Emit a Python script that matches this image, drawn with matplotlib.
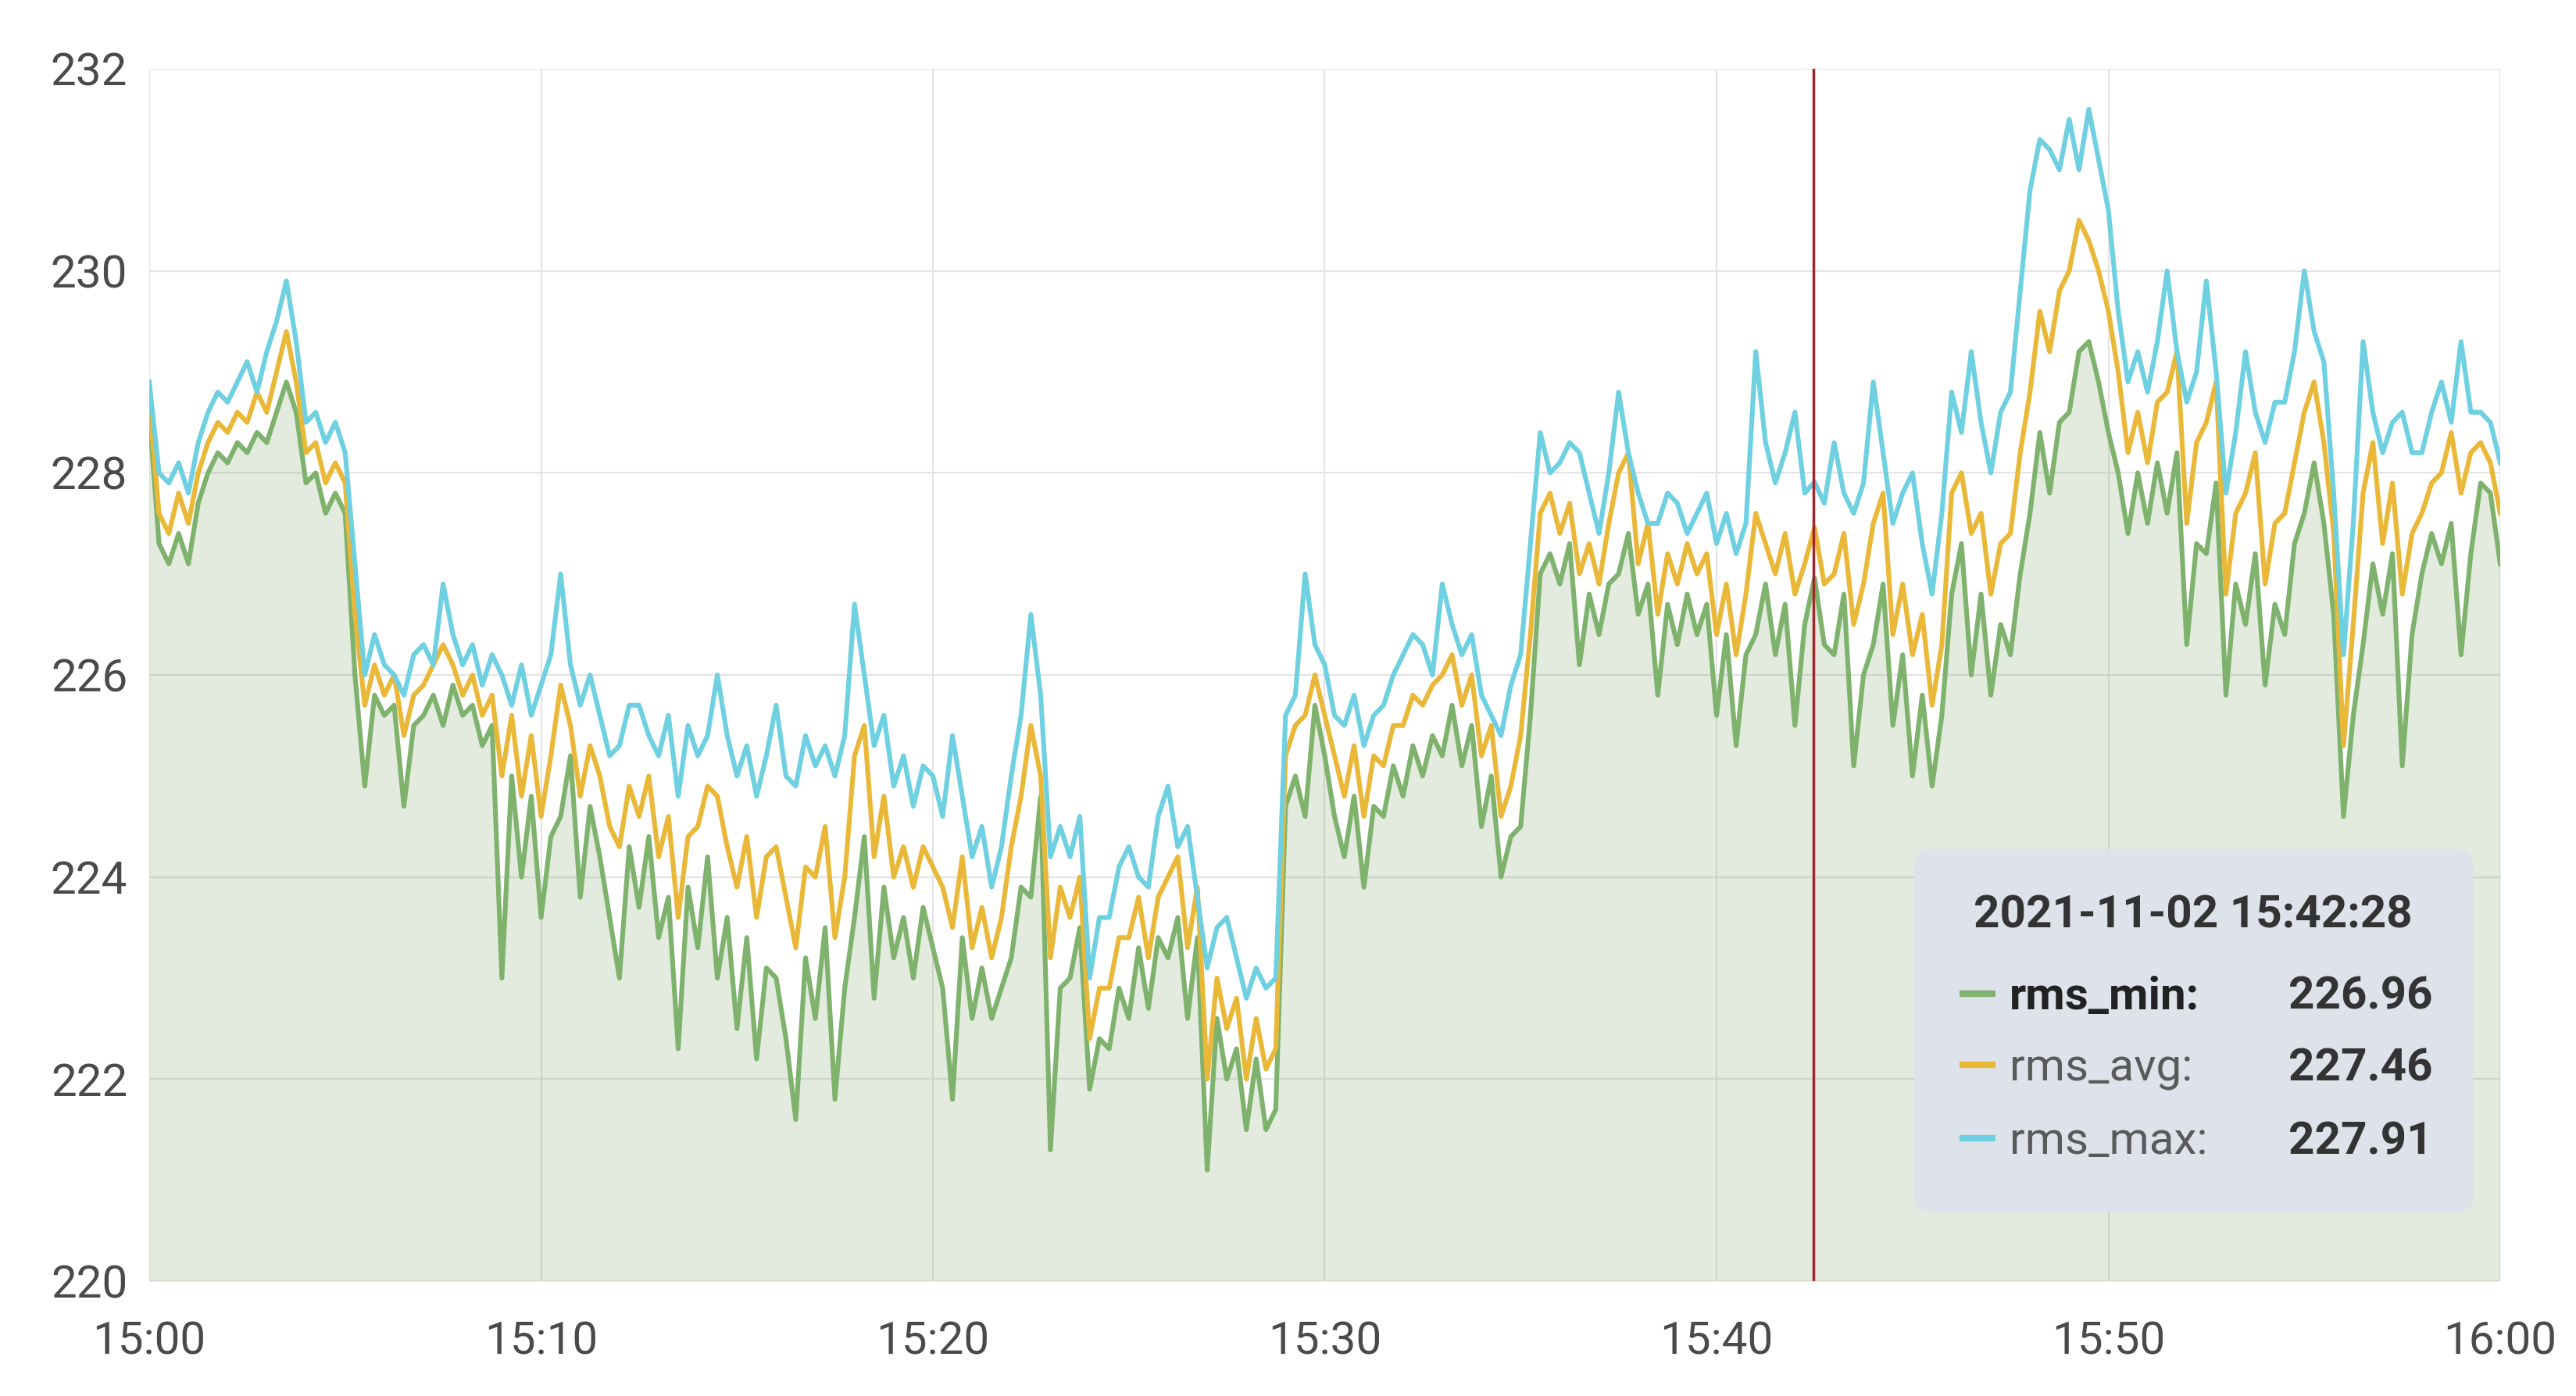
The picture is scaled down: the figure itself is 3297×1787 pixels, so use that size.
import pandas as pd
import matplotlib.pyplot as plt
import matplotlib.dates as mdates
from matplotlib.patches import FancyBboxPatch

plt.rcParams['font.family'] = ['Roboto', 'DejaVu Sans']

# ================= DATA (15 s samples) =================

times = pd.date_range("2021-11-02 15:00:00", periods=241, freq="15s")

rms_min = [
    228.6, 227.3, 227.1, 227.4, 227.1, 227.7, 228.0, 228.2, 228.1, 228.3, 228.2, 228.4, 228.3, 228.6, 228.9, 228.6, 227.9, 228.0, 227.6, 227.8,
    227.6, 226.0, 224.9, 225.8, 225.6, 225.7, 224.7, 225.5, 225.6, 225.8, 225.5, 225.9, 225.6, 225.7, 225.3, 225.5, 223.0, 225.0, 224.0, 224.8,
    223.6, 224.4, 224.6, 225.2, 223.8, 224.7, 224.2, 223.6, 223.0, 224.3, 223.7, 224.4, 223.4, 223.8, 222.3, 223.9, 223.3, 224.2, 223.0, 223.6,
    222.5, 223.4, 222.2, 223.1, 223.0, 222.4, 221.6, 223.2, 222.6, 223.5, 221.8, 222.9, 223.6, 224.4, 222.8, 223.9, 223.2, 223.6, 223.0, 223.7,
    223.3, 222.9, 221.8, 223.4, 222.6, 223.1, 222.6, 222.9, 223.2, 223.9, 223.8, 224.8, 221.3, 222.9, 223.0, 223.5, 221.9, 222.4, 222.3, 222.9,
    222.6, 223.3, 222.7, 223.4, 223.2, 223.6, 222.6, 223.4, 221.1, 222.6, 222.0, 222.3, 221.5, 222.2, 221.5, 221.7, 224.7, 225.0, 224.6, 225.7,
    225.2, 224.6, 224.2, 224.8, 223.9, 224.7, 224.6, 225.1, 224.8, 225.3, 225.0, 225.4, 225.2, 225.7, 225.1, 225.5, 224.5, 225.0, 224.0, 224.4,
    224.5, 225.6, 227.0, 227.2, 226.9, 227.3, 226.1, 226.8, 226.4, 226.9, 227.0, 227.4, 226.6, 226.9, 225.8, 226.7, 226.3, 226.8, 226.4, 226.7,
    225.6, 226.4, 225.3, 226.2, 226.4, 226.9, 226.2, 226.7, 225.5, 226.5, 226.96, 226.3, 226.2, 226.8, 225.1, 226.0, 226.3, 226.9, 225.5, 226.2,
    225.0, 225.8, 224.9, 225.6, 226.8, 227.3, 226.0, 226.8, 225.8, 226.5, 226.2, 227.0, 227.6, 228.4, 227.8, 228.5, 228.6, 229.2, 229.3, 228.9,
    228.4, 228.0, 227.4, 228.0, 227.5, 228.1, 227.6, 228.2, 226.3, 227.3, 227.2, 227.9, 225.8, 226.9, 226.5, 227.2, 225.9, 226.7, 226.4, 227.3,
    227.6, 228.1, 227.5, 226.6, 224.6, 225.6, 226.3, 227.1, 226.6, 227.2, 225.1, 226.4, 227.0, 227.4, 227.1, 227.5, 226.2, 227.2, 227.9, 227.8,
    227.1,
]

rms_avg = [
    228.7, 227.6, 227.4, 227.8, 227.5, 228.0, 228.3, 228.5, 228.4, 228.6, 228.5, 228.8, 228.6, 229.0, 229.4, 228.9, 228.2, 228.3, 227.9, 228.1,
    227.9, 226.6, 225.7, 226.1, 225.8, 226.0, 225.4, 225.8, 225.9, 226.1, 226.3, 226.1, 225.8, 226.0, 225.6, 225.8, 225.0, 225.6, 224.8, 225.4,
    224.6, 225.2, 225.9, 225.5, 224.8, 225.3, 225.0, 224.5, 224.3, 224.9, 224.6, 225.0, 224.2, 224.6, 223.6, 224.4, 224.5, 224.9, 224.8, 224.3,
    223.9, 224.4, 223.6, 224.2, 224.3, 223.8, 223.3, 224.1, 224.0, 224.5, 223.4, 224.0, 225.2, 225.5, 224.2, 224.8, 224.0, 224.3, 223.9, 224.3,
    224.1, 223.9, 223.5, 224.2, 223.3, 223.7, 223.2, 223.6, 224.3, 224.8, 225.5, 225.0, 223.2, 223.9, 223.6, 224.0, 222.4, 222.9, 222.9, 223.4,
    223.4, 223.8, 223.2, 223.8, 224.0, 224.2, 223.3, 223.9, 222.0, 223.0, 222.5, 222.8, 222.0, 222.6, 222.1, 222.3, 225.2, 225.5, 225.6, 226.0,
    225.6, 225.2, 224.8, 225.3, 224.6, 225.2, 225.1, 225.5, 225.5, 225.8, 225.7, 225.9, 226.0, 226.2, 225.7, 226.0, 225.2, 225.5, 224.6, 224.9,
    225.4, 226.4, 227.6, 227.8, 227.4, 227.7, 227.0, 227.3, 226.9, 227.5, 228.0, 228.2, 227.1, 227.5, 226.6, 227.2, 226.9, 227.3, 227.0, 227.2,
    226.4, 226.9, 226.2, 226.8, 227.6, 227.3, 227.0, 227.4, 226.8, 227.1, 227.46, 226.9, 227.0, 227.4, 226.5, 226.9, 227.5, 227.8, 226.4, 226.9,
    226.2, 226.6, 225.7, 226.3, 227.8, 228.0, 227.4, 227.6, 226.8, 227.3, 227.4, 228.2, 228.8, 229.6, 229.2, 229.8, 230.0, 230.5, 230.3, 230.0,
    229.6, 229.0, 228.2, 228.6, 228.1, 228.7, 228.8, 229.2, 227.5, 228.3, 228.5, 228.9, 226.8, 227.6, 227.8, 228.2, 226.9, 227.5, 227.6, 228.1,
    228.6, 228.9, 228.3, 227.4, 225.3, 226.5, 227.8, 228.3, 227.3, 227.9, 226.8, 227.4, 227.6, 227.9, 228.0, 228.4, 227.8, 228.2, 228.3, 228.1,
    227.6,
]

rms_max = [
    228.9, 228.0, 227.9, 228.1, 227.8, 228.3, 228.6, 228.8, 228.7, 228.9, 229.1, 228.8, 229.2, 229.5, 229.9, 229.3, 228.5, 228.6, 228.3, 228.5,
    228.2, 227.1, 226.0, 226.4, 226.1, 226.0, 225.8, 226.2, 226.3, 226.1, 226.9, 226.4, 226.1, 226.3, 225.9, 226.2, 226.0, 225.7, 226.1, 225.6,
    225.9, 226.2, 227.0, 226.1, 225.7, 226.0, 225.6, 225.2, 225.3, 225.7, 225.7, 225.4, 225.2, 225.6, 224.8, 225.5, 225.2, 225.4, 226.0, 225.4,
    225.0, 225.3, 224.8, 225.2, 225.7, 225.0, 224.9, 225.4, 225.1, 225.3, 225.0, 225.4, 226.7, 226.0, 225.3, 225.6, 224.9, 225.2, 224.7, 225.1,
    225.0, 224.6, 225.4, 224.8, 224.2, 224.5, 223.9, 224.3, 225.0, 225.6, 226.6, 225.8, 224.2, 224.5, 224.2, 224.6, 223.0, 223.6, 223.6, 224.1,
    224.3, 224.0, 223.9, 224.6, 224.9, 224.3, 224.5, 223.8, 223.1, 223.5, 223.6, 223.2, 222.8, 223.1, 222.9, 223.0, 225.6, 225.8, 227.0, 226.3,
    226.1, 225.6, 225.5, 225.8, 225.3, 225.6, 225.7, 226.0, 226.2, 226.4, 226.3, 226.0, 226.9, 226.5, 226.2, 226.4, 225.8, 225.6, 225.4, 225.9,
    226.2, 227.3, 228.4, 228.0, 228.1, 228.3, 228.2, 227.8, 227.4, 228.0, 228.8, 228.2, 227.8, 227.5, 227.5, 227.8, 227.7, 227.4, 227.6, 227.8,
    227.3, 227.6, 227.2, 227.5, 229.2, 228.3, 227.9, 228.2, 228.6, 227.8, 227.91, 227.7, 228.3, 227.8, 227.6, 227.9, 228.9, 228.2, 227.5, 227.8,
    228.0, 227.3, 226.8, 227.6, 228.8, 228.4, 229.2, 228.5, 228.0, 228.6, 228.8, 229.8, 230.8, 231.3, 231.2, 231.0, 231.5, 231.0, 231.6, 231.1,
    230.6, 229.6, 228.9, 229.2, 228.8, 229.3, 230.0, 229.2, 228.7, 229.0, 229.9, 229.0, 227.8, 228.4, 229.2, 228.6, 228.3, 228.7, 228.7, 229.2,
    230.0, 229.4, 229.1, 227.8, 226.2, 227.5, 229.3, 228.6, 228.2, 228.5, 228.6, 228.2, 228.2, 228.6, 228.9, 228.5, 229.3, 228.6, 228.6, 228.5,
    228.1,
]

series_names = ["rms_min", "rms_avg", "rms_max"]
series_colors = ["#7EB26D", "#EAB839", "#6ED0E0"]
hover_time = pd.Timestamp("2021-11-02 15:42:28")
hover_values = ["226.96", "227.46", "227.91"]

y_ticks = [220, 222, 224, 226, 228, 230, 232]

# ================= FIGURE =================

W, H = 3297, 1787
fig = plt.figure(figsize=(W / 100, H / 100), dpi=100)
ax = fig.add_axes([191 / W, 1 - 1640 / H, (3200 - 191) / W, (1640 - 88) / H])

ax.fill_between(times, rms_min, 220, color="#739b5a", alpha=0.2, lw=0)
for vals, col in zip([rms_min, rms_avg, rms_max], series_colors):
    ax.plot(times, vals, color=col, lw=4.4)

ax.axvline(hover_time, color="#a3262a", lw=2.5, zorder=5)

ax.set_xlim(times[0], times[-1])
ax.set_ylim(220, 232)
ax.set_yticks(y_ticks)
ax.xaxis.set_major_locator(mdates.MinuteLocator(byminute=range(0, 60, 10)))
ax.xaxis.set_major_formatter(mdates.DateFormatter("%H:%M"))

ax.set_axisbelow(True)
ax.grid(True, color="#e4e4e4", lw=1.6)
for s in ax.spines.values():
    s.set_visible(False)
ax.tick_params(axis="both", length=0, labelsize=42, labelcolor="#4a4a4a")
ax.tick_params(axis="x", pad=36)
ax.tick_params(axis="y", pad=20)

# ================= TOOLTIP =================

box = FancyBboxPatch((24.50, (H - 1552) / 100), 7.15, 4.65,
                     boxstyle="round,pad=0,rounding_size=0.22",
                     transform=fig.dpi_scale_trans,
                     facecolor="#dde2ec", edgecolor="none", alpha=0.96, zorder=10)
fig.patches.append(box)

fig.text(2807 / W, 1 - 1187 / H, hover_time.strftime("%Y-%m-%d %H:%M:%S"),
         ha="center", va="baseline", fontsize=42, fontweight="bold",
         color="#333333", zorder=11)

row_y = [1292, 1383, 1477]
for i, (name, col, val) in enumerate(zip(series_names, series_colors, hover_values)):
    yb = 1 - row_y[i] / H
    yl = 1 - (row_y[i] - 20) / H
    fig.add_artist(plt.Line2D([2508 / W, 2554 / W], [yl, yl], color=col,
                              lw=6, solid_capstyle="butt", zorder=11))
    bold = i == 0
    fig.text(2572 / W, yb, name + ":", ha="left", va="baseline", fontsize=42,
             fontweight="bold" if bold else "normal",
             color="#222222" if bold else "#5a5a5a", zorder=11)
    fig.text(3114 / W, yb, val, ha="right", va="baseline", fontsize=42,
             fontweight="bold", color="#333333", zorder=11)

fig.savefig("out.png", dpi=100)
